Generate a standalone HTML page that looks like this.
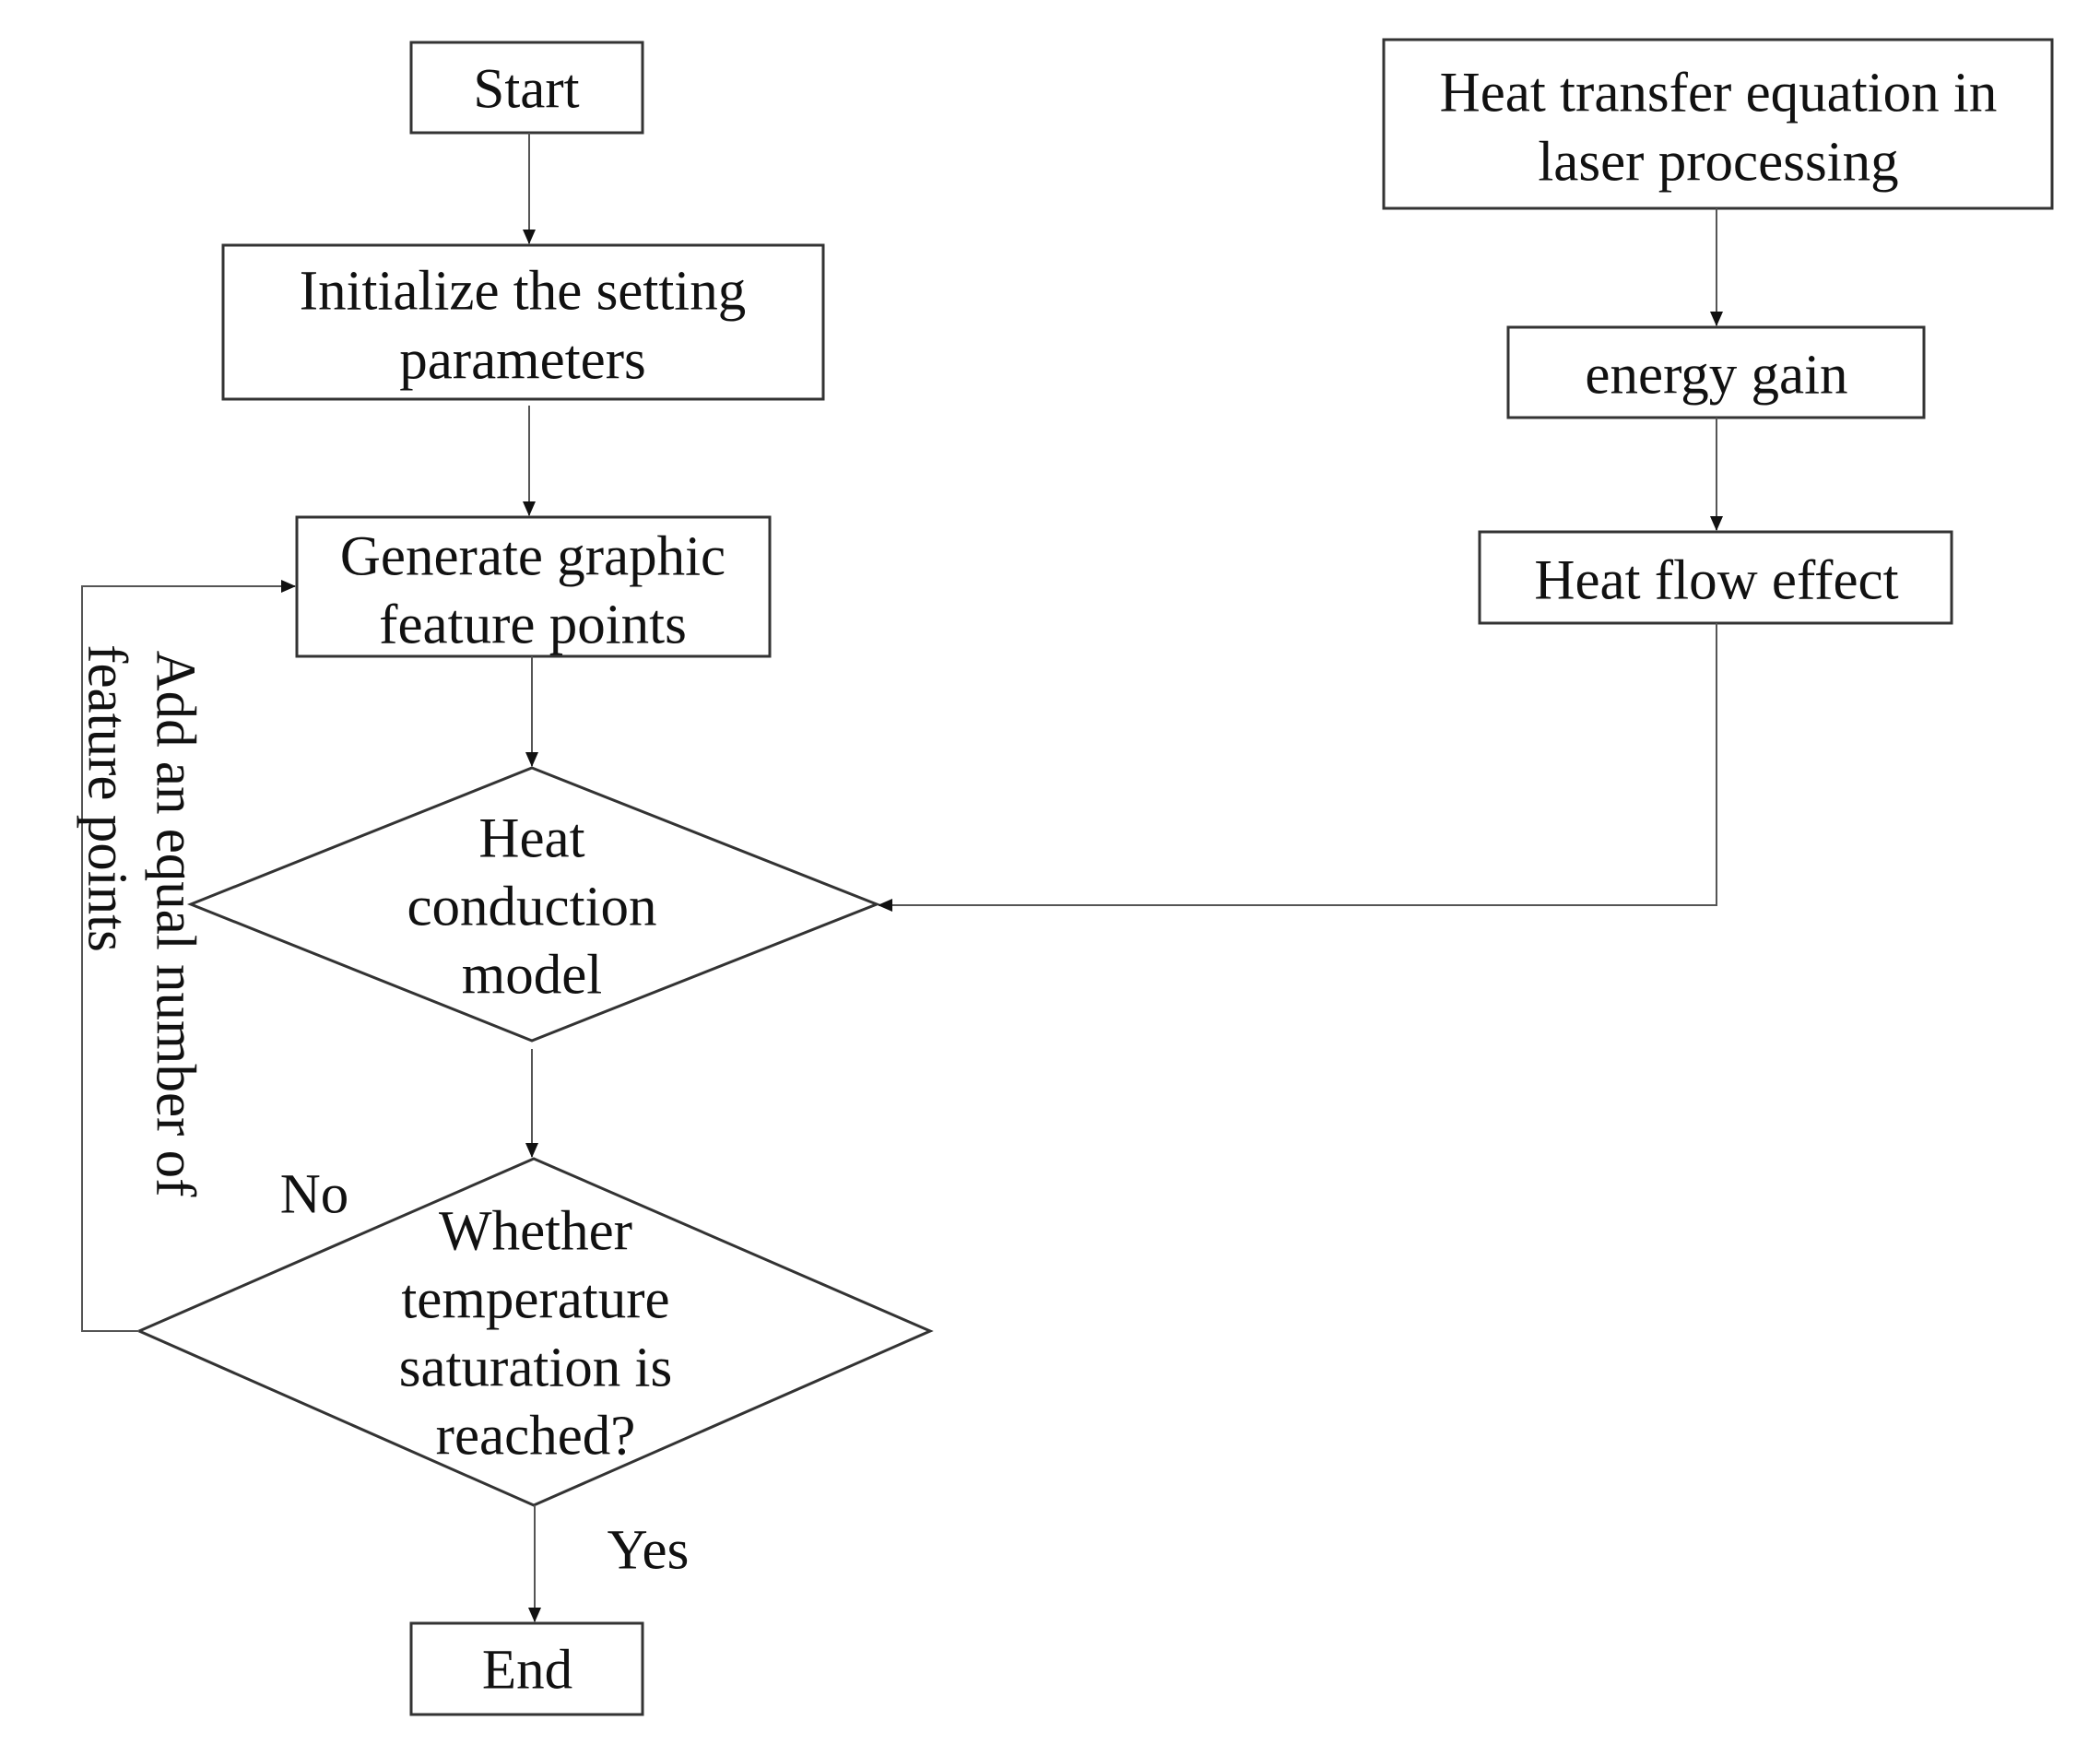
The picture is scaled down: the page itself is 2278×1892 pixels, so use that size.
<!DOCTYPE html>
<html><head><meta charset="utf-8"><style>
html,body{margin:0;padding:0;background:#fff;}
svg{display:block;}
text{font-family:"Liberation Serif",serif;font-size:61px;fill:#111;text-anchor:middle;dominant-baseline:central;}
</style></head><body>
<svg width="2278" height="1892" viewBox="0 0 2278 1892" xmlns="http://www.w3.org/2000/svg">
<defs>
<marker id="b" markerWidth="16" markerHeight="16" refX="15" refY="8" orient="auto" markerUnits="userSpaceOnUse"><path d="M0,1 L16,8 L0,15 z" fill="#111"/></marker></defs>
<g fill="none" stroke="#333" stroke-width="3">
<rect x="446" y="46" width="251" height="98"/>
<rect x="242" y="266" width="651" height="167"/>
<rect x="322" y="561" width="513" height="151"/>
<polygon points="577,833 951,981 577,1129 207,981"/>
<polygon points="579,1257 1009,1444 579,1633 151,1444"/>
<rect x="446" y="1761" width="251" height="99"/>
<rect x="1501" y="43" width="725" height="183"/>
<rect x="1636" y="355" width="451" height="98"/>
<rect x="1605" y="577" width="512" height="99"/>
</g>
<g fill="none" stroke="#555" stroke-width="2">
<line x1="574" y1="144" x2="574" y2="264" marker-end="url(#b)"/>
<line x1="574" y1="440" x2="574" y2="559" marker-end="url(#b)"/>
<line x1="577" y1="712" x2="577" y2="831" marker-end="url(#b)"/>
<line x1="577" y1="1138" x2="577" y2="1255" marker-end="url(#b)"/>
<line x1="580" y1="1633" x2="580" y2="1759" marker-end="url(#b)"/>
<polyline points="151,1444 89,1444 89,636 320,636" marker-end="url(#b)"/>
<line x1="1862" y1="226" x2="1862" y2="353" marker-end="url(#b)"/>
<line x1="1862" y1="453" x2="1862" y2="575" marker-end="url(#b)"/>
<polyline points="1862,676 1862,982 953,982" marker-end="url(#b)"/>
</g>
<text x="571" y="97">Start</text>
<text x="567" y="316">Initialize the setting</text>
<text x="567" y="391">parameters</text>
<text x="578" y="604">Generate graphic</text>
<text x="578" y="678">feature points</text>
<text x="577" y="910">Heat</text>
<text x="577" y="984">conduction</text>
<text x="577" y="1058">model</text>
<text x="581" y="1336">Whether</text>
<text x="581" y="1410">temperature</text>
<text x="581" y="1484">saturation is</text>
<text x="581" y="1558">reached?</text>
<text x="572" y="1812">End</text>
<text x="341" y="1296">No</text>
<text x="703" y="1682">Yes</text>
<text x="1864" y="101">Heat transfer equation in</text>
<text x="1864" y="176">laser processing</text>
<text x="1862" y="407">energy gain</text>
<text x="1862" y="630">Heat flow effect</text>
<text transform="translate(190,1002) rotate(90)">Add an equal number of</text>
<text transform="translate(116,866) rotate(90)">feature points</text>
</svg>
</body></html>
